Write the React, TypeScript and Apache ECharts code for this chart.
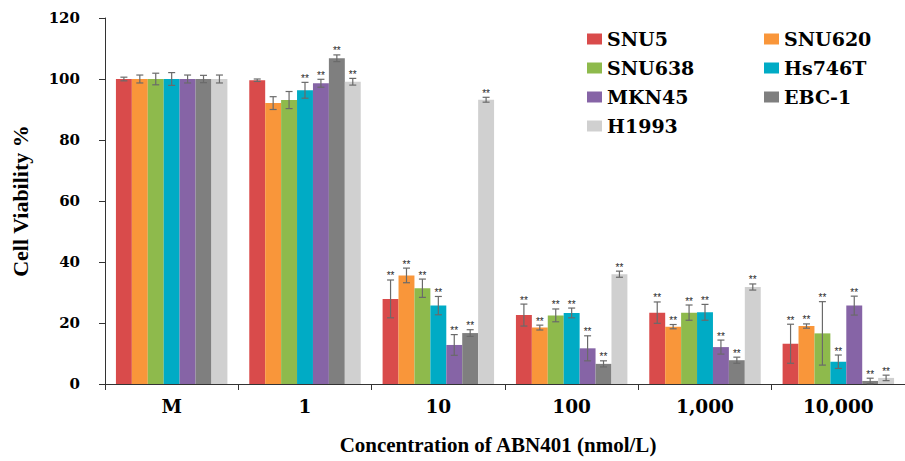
import React, { useEffect, useRef } from "react";
import * as echarts from "echarts";

const categories = ["M", "1", "10", "100", "1,000", "10,000"];
const yTicks = { min: 0, max: 120, interval: 20 };

const cellLines = ["SNU5", "SNU620", "SNU638", "Hs746T", "MKN45", "EBC-1", "H1993"];
const colors = ["#D94B4B", "#F9963A", "#8EBA4C", "#00ABC5", "#8664A6", "#7F7F7F", "#D0D0D0"];

const SNU5 = [100, 99.6, 27.9, 22.6, 23.4, 13.2];
const SNU5_err = [0.6, 0.4, 6.2, 3.6, 3.5, 6.4];
const SNU5_sig = [0, 0, 1, 1, 1, 1];

const SNU620 = [100, 92.1, 35.6, 18.5, 18.8, 19.0];
const SNU620_err = [1.3, 2.1, 2.4, 0.8, 0.7, 0.7];
const SNU620_sig = [0, 0, 1, 1, 1, 1];

const SNU638 = [100, 93.1, 31.4, 22.5, 23.4, 16.6];
const SNU638_err = [1.9, 2.8, 3.0, 2.1, 2.5, 10.4];
const SNU638_sig = [0, 0, 1, 1, 1, 1];

const Hs746T = [100, 96.3, 25.7, 23.3, 23.5, 7.3];
const Hs746T_err = [2.1, 2.6, 3.0, 1.6, 2.6, 2.2];
const Hs746T_sig = [0, 1, 1, 1, 1, 1];

const MKN45 = [100, 98.6, 12.8, 11.7, 12.1, 25.7];
const MKN45_err = [1.3, 1.3, 3.4, 4.1, 2.3, 3.1];
const MKN45_sig = [0, 1, 1, 1, 1, 1];

const EBC1 = [100, 106.8, 16.7, 6.6, 7.8, 1.0];
const EBC1_err = [1.2, 1.1, 1.1, 1.0, 1.0, 0.9];
const EBC1_sig = [0, 1, 1, 1, 1, 1];

const H1993 = [100, 99.1, 93.2, 36.0, 31.8, 2.0];
const H1993_err = [1.3, 1.1, 0.8, 1.0, 1.0, 0.9];
const H1993_sig = [0, 1, 1, 1, 1, 1];

const means = [SNU5, SNU620, SNU638, Hs746T, MKN45, EBC1, H1993];
const errs = [SNU5_err, SNU620_err, SNU638_err, Hs746T_err, MKN45_err, EBC1_err, H1993_err];
const sigs = [SNU5_sig, SNU620_sig, SNU638_sig, Hs746T_sig, MKN45_sig, EBC1_sig, H1993_sig];

const INNER = 0.836;

function makeSeries(idx: number) {
  const data = categories.map((_, ci) => [ci, means[idx][ci], errs[idx][ci], sigs[idx][ci]]);
  return {
    type: "custom",
    name: cellLines[idx],
    itemStyle: { color: colors[idx] },
    encode: { x: 0, y: 1 },
    data,
    renderItem: (params: any, api: any) => {
      const ci = api.value(0);
      const v = api.value(1);
      const e = api.value(2);
      const s = api.value(3);
      const band = api.size([1, 0])[0];
      const inner = band * INNER;
      const bw = inner / cellLines.length;
      const base = api.coord([ci, 0]);
      const x0 = base[0] - inner / 2 + idx * bw;
      const cx = x0 + bw / 2;
      const top = api.coord([ci, v])[1];
      const hi = api.coord([ci, v + e])[1];
      const lo = api.coord([ci, Math.max(0, v - e)])[1];
      const cap = 3.5;
      const lineStyle = { stroke: "#6A6A6A", lineWidth: 1.2 };
      const children: any[] = [
        {
          type: "rect",
          shape: { x: x0, y: top, width: bw, height: base[1] - top },
          style: { fill: colors[idx] },
        },
        { type: "line", shape: { x1: cx, y1: hi, x2: cx, y2: lo }, style: lineStyle },
        { type: "line", shape: { x1: cx - cap, y1: hi, x2: cx + cap, y2: hi }, style: lineStyle },
        { type: "line", shape: { x1: cx - cap, y1: lo, x2: cx + cap, y2: lo }, style: lineStyle },
      ];
      if (s) {
        children.push({
          type: "text",
          style: {
            text: "**",
            x: cx,
            y: hi + 1,
            align: "center",
            verticalAlign: "bottom",
            fontSize: 10,
            fontFamily: "Liberation Sans",
            fill: "#262626",
          },
        });
      }
      return { type: "group", children };
    },
  };
}

export default function App() {
  const ref = useRef<HTMLDivElement>(null);
  useEffect(() => {
    if (!ref.current) return;
    const chart = echarts.init(ref.current, null, { renderer: "svg" });
    const legendText = {
      fontFamily: "DejaVu Serif",
      fontWeight: "bold",
      fontSize: 19,
      color: "#000",
      lineHeight: 20,
    };
    chart.setOption({
      animation: false,
      backgroundColor: "#fff",
      grid: { left: 105, right: -5, top: 18, bottom: 77, containLabel: false },
      legend: [
        {
          data: ["SNU5", "SNU638", "MKN45", "H1993"],
          orient: "vertical",
          left: 587,
          top: 29,
          padding: 0,
          itemWidth: 15,
          itemHeight: 11,
          itemGap: 9,
          icon: "rect",
          textStyle: legendText,
        },
        {
          data: ["SNU620", "Hs746T", "EBC-1"],
          orient: "vertical",
          left: 764,
          top: 29,
          padding: 0,
          itemWidth: 15,
          itemHeight: 11,
          itemGap: 9,
          icon: "rect",
          textStyle: legendText,
        },
      ],
      xAxis: {
        type: "category",
        data: categories,
        name: "Concentration of ABN401 (nmol/L)",
        nameLocation: "middle",
        nameGap: 50,
        nameTextStyle: {
          fontFamily: "Liberation Serif",
          fontWeight: "bold",
          fontSize: 21,
          color: "#000",
          padding: [0, 14, 0, 0],
        },
        axisLine: { lineStyle: { color: "#333", width: 1 } },
        axisTick: { show: true, length: 6, inside: false, alignWithLabel: false, lineStyle: { color: "#333" } },
        axisLabel: {
          margin: 13,
          fontFamily: "DejaVu Serif",
          fontWeight: "bold",
          fontSize: 18.5,
          color: "#000",
        },
        splitLine: { show: false },
      },
      yAxis: {
        type: "value",
        min: yTicks.min,
        max: yTicks.max,
        interval: yTicks.interval,
        name: "Cell Viability %",
        nameLocation: "middle",
        nameGap: 74,
        nameTextStyle: {
          fontFamily: "Liberation Serif",
          fontWeight: "bold",
          fontSize: 22,
          color: "#000",
        },
        axisLine: { show: true, lineStyle: { color: "#333", width: 1 } },
        axisTick: { show: true, length: 6, inside: false, lineStyle: { color: "#333" } },
        axisLabel: {
          margin: 25,
          fontFamily: "DejaVu Serif",
          fontWeight: "bold",
          fontSize: 15,
          color: "#000",
        },
        splitLine: { show: false },
      },
      series: cellLines.map((_, i) => makeSeries(i)),
    });
    return () => chart.dispose();
  }, []);
  return (
    <div
      ref={ref}
      style={{ position: "fixed", left: 0, top: 0, width: 905, height: 461, background: "#fff" }}
    />
  );
}
